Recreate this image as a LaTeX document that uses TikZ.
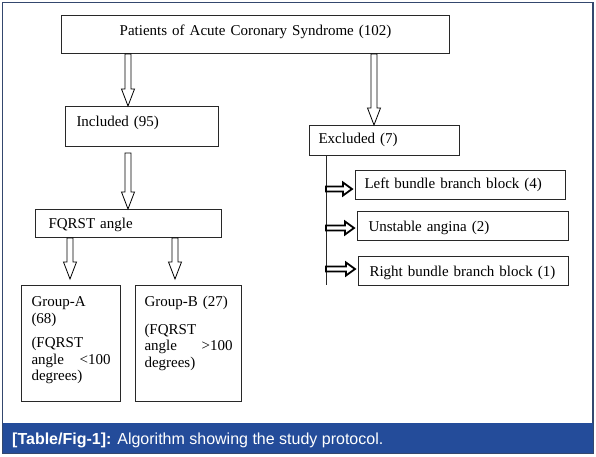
\documentclass[tikz,border=0pt]{standalone}
\usepackage{fontspec}
\setmainfont{Liberation Serif}
\newfontfamily\capfont{Liberation Sans}
\usetikzlibrary{calc}
\definecolor{FrameLine}{RGB}{52,72,110}
\definecolor{CapBlue}{RGB}{36,76,154}
\definecolor{BoxLine}{RGB}{40,40,40}

\begin{document}
\begin{tikzpicture}[x=1pt, y=-1pt,
    box/.style={draw=BoxLine, line width=1pt, fill=white, anchor=north west, align=left,
      inner ysep=0pt, font=\fontsize{15}{16.5}\selectfont},
    fatdown/.style={draw=black, line width=0.8pt, fill=white,
      to path={let \p1=(\tikztostart), \p2=(\tikztotarget) in
        (\x1-3pt,\y1) -- (\x1-3pt,\y2+17pt) -- (\x1-6.5pt,\y2+17pt) -- (\x1,\y2)
        -- (\x1+6.5pt,\y2+17pt) -- (\x1+3pt,\y2+17pt) -- (\x1+3pt,\y1) -- cycle}},
    fatright/.style={draw=black, line width=1.8pt, fill=white,
      to path={let \p1=(\tikztostart), \p2=(\tikztotarget) in
        (\x1,\y2+2.5pt) -- (\x2-9pt,\y2+2.5pt) -- (\x2-9pt,\y2+6.5pt) -- (\x2,\y2)
        -- (\x2-9pt,\y2-6.5pt) -- (\x2-9pt,\y2-2.5pt) -- (\x1,\y2-2.5pt) -- cycle}}
  ]
    \useasboundingbox (0,0) rectangle (596,456);
    % frame and caption bar
    \draw[FrameLine, line width=1.2pt] (2.5,2.5) rectangle (593,453);
    \fill[CapBlue] (3,423) rectangle (592.5,452.5);
    \node[anchor=base west, text=white, inner sep=0pt, font=\capfont\fontsize{16}{18}\selectfont]
      (cap) at (12,444) {\textbf{[Table/Fig-1]:} Algorithm showing the study protocol.};

    % left branch
    \node[box, text width=388pt, inner xsep=0pt, align=center, text height=20pt, text depth=18pt]
      (acs) at (61,15) {Patients of Acute Coronary Syndrome (102)};
    \node[box, text width=131pt, inner xsep=11pt, text height=20pt, text depth=20pt]
      (incl) at (65,106) {Included (95)};
    \node[box, text width=160pt, inner xsep=13pt, text height=19pt, text depth=9pt]
      (fqrst) at (35,209) {FQRST angle};
    \node[box, text width=79pt, inner xsep=10pt, text height=21pt, text depth=95pt]
      (grpa) at (21,285) {Group-A\\(68)\\[8pt](FQRST\\angle\hfill<100\\degrees)};
    \node[box, text width=88pt, inner xsep=9pt, text height=21pt, text depth=95pt]
      (grpb) at (135,285) {Group-B (27)\\[11pt](FQRST\\angle\hfill>100\\degrees)};

    % right branch
    \node[box, text width=132pt, inner xsep=9pt, text height=18pt, text depth=12pt]
      (excl) at (309,125) {Excluded (7)};
    \node[box, text width=192pt, inner xsep=9pt, text height=18pt, text depth=11pt]
      (lbbb) at (355,170) {\mbox{Left bundle branch block (4)}};
    \node[box, text width=189pt, inner xsep=11pt, text height=20pt, text depth=9pt]
      (unst) at (357,211) {Unstable angina (2)};
    \node[box, text width=188pt, inner xsep=11pt, text height=20pt, text depth=9pt]
      (rbbb) at (358,256) {\mbox{Right bundle branch block (1)}};
    \coordinate (exend) at (326,285);

    \draw[fatdown] ([xshift=67pt]acs.south west) to (incl.north);
    \draw[fatdown] ([xshift=63pt,yshift=-6pt]incl.south west) to (fqrst.north);
    \draw[fatdown] ([xshift=35pt]fqrst.south west) to ([yshift=6pt]grpa.north);
    \draw[fatdown] ([xshift=140pt]fqrst.south west) to ([yshift=6pt]grpb.north);
    \draw[fatdown] ([xshift=-76pt]acs.south east) to (excl.north);

    \draw[BoxLine, line width=1pt] ([xshift=17pt]excl.south west) -- (exend);
    \draw[fatright] (exend) to ([xshift=-3pt,yshift=-4pt]lbbb.west);
    \draw[fatright] (exend) to ([xshift=-3pt,yshift=-2pt]unst.west);
    \draw[fatright] (exend) to ([xshift=-3pt,yshift=2pt]rbbb.west);
  \end{tikzpicture}
\end{document}
